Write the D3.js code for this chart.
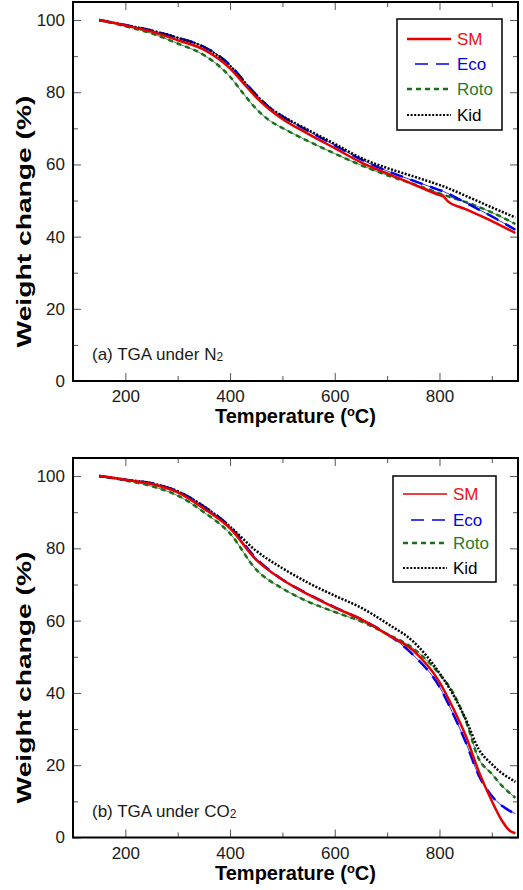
<!DOCTYPE html>
<html>
<head>
<meta charset="utf-8">
<script src="https://cdn.jsdelivr.net/npm/d3@7"></script>
<style>
  body { margin: 0; background: #fff; }
  text { font-family: "Liberation Sans", Arial, sans-serif; }
</style>
</head>
<body>
<svg id="mainSvg" width="523" height="890"></svg>
<script>
// series names + tick values
var seriesNames = ["SM", "Eco", "Roto", "Kid"];
var xMajorTicks = [200, 400, 600, 800];
var xMinorTicks = [100, 300, 500, 700, 900];
var yMajorTicks = [0, 20, 40, 60, 80, 100];
var yMinorTicks = [10, 30, 50, 70, 90];

// (a) TGA under N2
var tempsN2 = [150, 200, 250, 300, 350, 400, 425, 450, 475, 500, 550, 600, 650, 700, 750, 800, 808, 815, 850, 900, 945];
var smN2   = [100, 98.5, 96.8, 94.4, 91.8, 86.6, 82.6, 78.6, 75.3, 72.6, 68.4, 64.5, 60.6, 57.5, 54.5, 51.5, 51.1, 49.9, 47.6, 44.3, 41.0];
var ecoN2  = [100, 98.6, 97.1, 95.1, 92.6, 87.5, 83.4, 79.3, 75.8, 73.3, 69.2, 65.3, 61.4, 58.2, 55.5, 52.9, 52.5, 52.0, 49.4, 45.6, 41.9];
var rotoN2 = [100, 98.3, 96.3, 93.5, 90.3, 84.3, 79.7, 75.4, 72.2, 70.1, 66.4, 63.0, 59.8, 57.0, 54.6, 52.0, 51.6, 51.2, 49.6, 46.7, 43.5];
var kidN2  = [100, 98.6, 97.1, 95.1, 92.5, 87.3, 83.2, 79.2, 75.8, 73.4, 69.5, 65.7, 61.8, 59.0, 56.7, 54.3, 53.9, 53.5, 51.3, 48.1, 45.3];

// (b) TGA under CO2
var tempsCO2 = [150, 200, 250, 300, 350, 400, 450, 500, 550, 600, 650, 700, 750, 800, 825, 850, 875, 900, 920, 935, 945];
var smCO2   = [100, 99, 97.8, 95.5, 91.0, 85.5, 76.8, 71.3, 67.2, 63.6, 60.4, 56.2, 51.7, 43.0, 36.1, 28.2, 18.3, 10.1, 4.5, 1.8, 1.2];
var ecoCO2  = [100, 99, 98.0, 95.8, 91.6, 86.0, 77.2, 71.4, 67.3, 63.7, 60.4, 56.3, 50.5, 41.7, 34.5, 26.4, 17.2, 11.5, 8.7, 7.3, 6.6];
var rotoCO2 = [100, 98.8, 97.2, 94.6, 90.0, 84.1, 74.1, 68.9, 65.2, 62.4, 59.8, 56.3, 52.3, 45.2, 40.3, 32.4, 21.8, 17.6, 14.2, 12.2, 11.0];
var kidCO2  = [100, 99, 98.0, 95.8, 91.6, 86.0, 79.3, 74.5, 70.4, 66.9, 63.6, 59.2, 54.2, 45.5, 39.8, 32.8, 24.4, 20.3, 17.7, 16.3, 15.4];

var styles = {
  SM:   { color: "#e60000", dash: null,    width: 2.5, under: false, legendWidth: 2.5 },
  Eco:  { color: "#0000ee", dash: "13,8",  width: 2.5, under: true,  legendWidth: 1.5 },
  Roto: { color: "#1b6e1b", dash: "5,4",   width: 2.5, under: true,  legendWidth: 2.5 },
  Kid:  { color: "#000000", dash: "2,1.6", width: 2.5, under: false, legendWidth: 2.2 }
};
// draw order on the plot
var drawOrder = ["Roto", "Eco", "Kid", "SM"];

var svg = d3.select("#mainSvg");

var x = d3.scaleLinear().domain([100, 950]).range([73, 518]);

function drawPanel(top, bottom, temps, valuesByName, label, sub, legendBox, legendYs, smLegendWidth) {

  var y = d3.scaleLinear().domain([0, 105]).range([bottom, top]);
  var g = svg.append("g");

  // ticks pointing inward on all four sides
  g.append("g").attr("transform", "translate(0," + bottom + ")")
    .call(d3.axisBottom(x).tickValues(xMajorTicks).tickSize(-8).tickPadding(9).tickFormat(d3.format("d")));
  g.append("g").attr("transform", "translate(0," + bottom + ")")
    .call(d3.axisBottom(x).tickValues(xMinorTicks).tickSize(-5).tickFormat(""));
  g.append("g").attr("transform", "translate(0," + top + ")")
    .call(d3.axisTop(x).tickValues(xMajorTicks).tickSize(-8).tickFormat(""));
  g.append("g").attr("transform", "translate(0," + top + ")")
    .call(d3.axisTop(x).tickValues(xMinorTicks).tickSize(-5).tickFormat(""));
  g.append("g").attr("transform", "translate(73,0)")
    .call(d3.axisLeft(y).tickValues(yMajorTicks).tickSize(-8).tickPadding(8).tickFormat(d3.format("d")));
  g.append("g").attr("transform", "translate(73,0)")
    .call(d3.axisLeft(y).tickValues(yMinorTicks).tickSize(-5).tickFormat(""));
  g.append("g").attr("transform", "translate(518,0)")
    .call(d3.axisRight(y).tickValues(yMajorTicks).tickSize(-8).tickFormat(""));
  g.append("g").attr("transform", "translate(518,0)")
    .call(d3.axisRight(y).tickValues(yMinorTicks).tickSize(-5).tickFormat(""));

  g.selectAll(".domain").remove();
  g.selectAll(".tick line").attr("stroke", "#555").attr("stroke-width", 1);
  g.selectAll(".tick text")
    .attr("font-size", "17px")
    .attr("fill", "#1a1a1a");

  // curves
  var line = d3.line()
    .x(function(d) { return x(d.t); })
    .y(function(d) { return y(d.w); })
    .curve(d3.curveMonotoneX);

  drawOrder.forEach(function(name) {
    var st = styles[name];
    var pts = temps.map(function(t, i) { return { t: t, w: valuesByName[name][i] }; });
    if (st.under) {
      g.append("path").datum(pts)
        .attr("d", line).attr("fill", "none")
        .attr("stroke", st.color).attr("stroke-width", 0.8);
    }
    g.append("path").datum(pts)
      .attr("d", line).attr("fill", "none")
      .attr("stroke", st.color).attr("stroke-width", st.width)
      .attr("stroke-dasharray", st.dash);
  });

  // frame
  g.append("rect")
    .attr("x", 73).attr("y", top)
    .attr("width", 518 - 73).attr("height", bottom - top)
    .attr("fill", "none").attr("stroke", "#000").attr("stroke-width", 2);

  // panel label
  var lab = g.append("text")
    .attr("x", 92).attr("y", bottom - 21)
    .attr("font-size", "17px").attr("fill", "#1a1a1a")
    .text(label);
  lab.append("tspan").attr("font-size", "12px").attr("dy", 1).text(sub);

  // axis titles
  var xt = g.append("text")
    .attr("x", 295.5).attr("y", bottom + 42)
    .attr("text-anchor", "middle")
    .attr("font-size", "20px").attr("font-weight", "bold")
    .text("Temperature (");
  xt.append("tspan").attr("font-size", "13px").attr("dy", -7).text("o");
  xt.append("tspan").attr("dy", 7).text("C)");

  g.append("text")
    .attr("transform", "translate(31," + (top + 219.5) + ") rotate(-90)")
    .attr("text-anchor", "middle")
    .attr("font-size", "21px").attr("font-weight", "bold")
    .attr("textLength", 252).attr("lengthAdjust", "spacingAndGlyphs")
    .text("Weight change (%)");

  // legend
  g.append("rect")
    .attr("x", legendBox[0]).attr("y", legendBox[1])
    .attr("width", legendBox[2] - legendBox[0]).attr("height", legendBox[3] - legendBox[1])
    .attr("fill", "#fff").attr("stroke", "#000").attr("stroke-width", 1.5);

  seriesNames.forEach(function(name, i) {
    var st = styles[name];
    var ly = legendYs[i];
    var lx0 = legendBox[0] + 10, lx1 = legendBox[0] + 54;
    var lw = name === "SM" ? smLegendWidth : st.legendWidth;
    g.append("line")
      .attr("x1", name === "Eco" ? lx0 + 8 : lx0).attr("x2", lx1)
      .attr("y1", ly).attr("y2", ly)
      .attr("stroke", st.color).attr("stroke-width", lw)
      .attr("stroke-dasharray", st.dash);
    g.append("text")
      .attr("x", lx1 + 6).attr("y", ly + 6)
      .attr("font-size", "17px")
      .attr("fill", name === "Roto" ? "#2a7a2a" : (name === "SM" ? "#ee1111" : st.color))
      .text(name);
  });
}

drawPanel(2, 381, tempsN2,
  { SM: smN2, Eco: ecoN2, Roto: rotoN2, Kid: kidN2 },
  "(a) TGA under N", "2",
  [397, 19, 502, 130], [39, 64, 89, 115], 2.5);

drawPanel(458, 837.5, tempsCO2,
  { SM: smCO2, Eco: ecoCO2, Roto: rotoCO2, Kid: kidCO2 },
  "(b) TGA under CO", "2",
  [393, 476, 496, 582], [494, 520, 543, 568], 1.5);
</script>
</body>
</html>
